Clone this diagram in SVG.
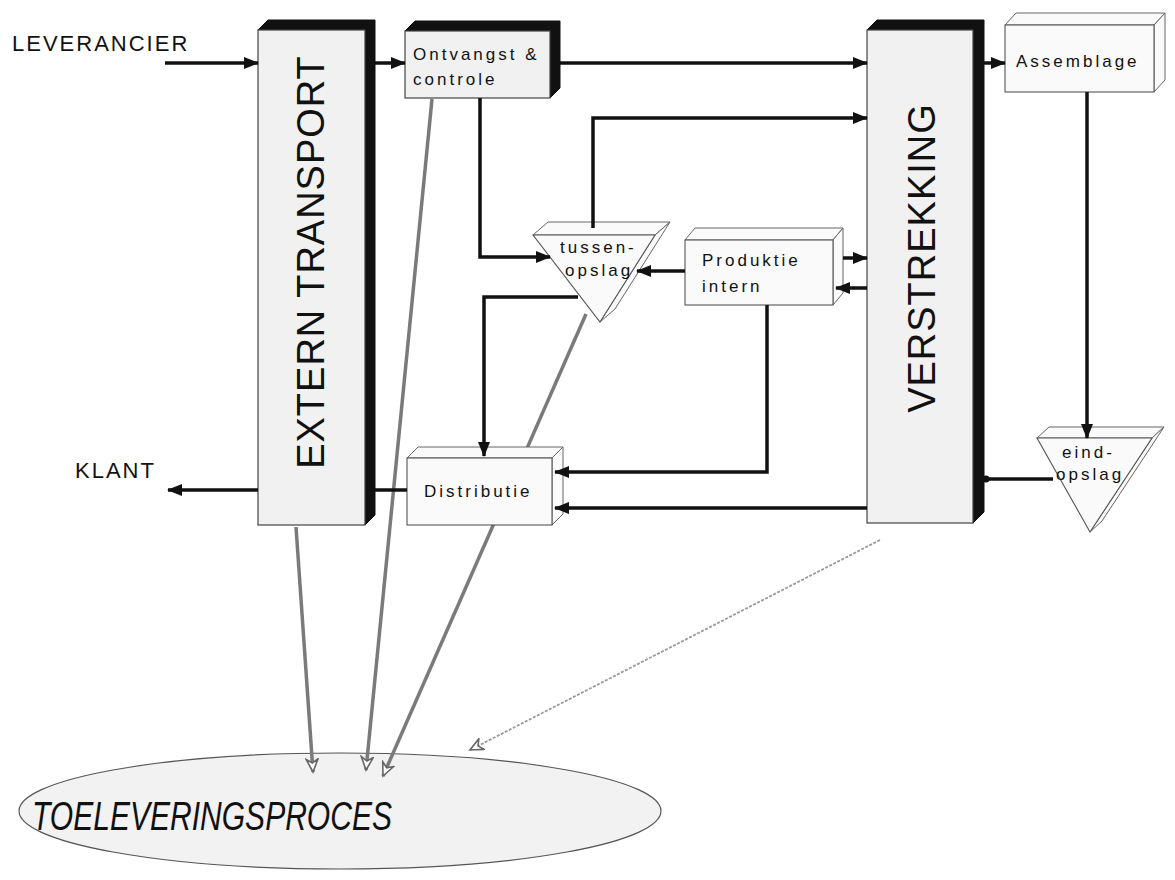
<svg xmlns="http://www.w3.org/2000/svg" width="1175" height="880" viewBox="0 0 1175 880">
<style>
.lbl{font-family:"Liberation Sans",Arial,sans-serif;font-size:17px;letter-spacing:3px;fill:#111}
.big{font-family:"Liberation Sans",Arial,sans-serif;font-size:38px;letter-spacing:1px;fill:#111;text-anchor:middle}
.side{font-family:"Liberation Sans",Arial,sans-serif;font-size:22px;letter-spacing:2px;fill:#111}
.front{fill:#f1f1f1;stroke:#444;stroke-width:1.2}
.plain{fill:#fafafa;stroke:#555;stroke-width:1.1}
.ext{fill:#111;stroke:#111;stroke-width:1}
.face{fill:#fafafa;stroke:#666;stroke-width:1}
.flow{fill:none;stroke:#111;stroke-width:3.5}
.grey{fill:none;stroke:#7a7a7a;stroke-width:3.5}
.lightgrey{fill:none;stroke:#9a9a9a;stroke-width:1.8;stroke-dasharray:3 1.5}
</style>
<defs>
<marker id="ah" markerUnits="userSpaceOnUse" markerWidth="15" markerHeight="12" refX="14" refY="6" orient="auto">
<path d="M0,0 L15,6 L0,12 z" fill="#111"/>
</marker>
<marker id="gh" markerUnits="userSpaceOnUse" markerWidth="16" markerHeight="14" refX="14" refY="7" orient="auto">
<path d="M1,1 L14,7 L1,13 L5,7 z" fill="#fff" stroke="#666" stroke-width="1.6"/>
</marker>
</defs>
<rect width="1175" height="880" fill="#fff"/>

<g id="ellipse-toeleveringsproces">
<ellipse cx="340" cy="811" rx="321" ry="58" fill="#f2f2f2" stroke="#555" stroke-width="1.2"/>
<text x="32" y="830" font-family="'Liberation Sans',Arial,sans-serif" font-style="italic" font-size="40" fill="#111" textLength="360" lengthAdjust="spacingAndGlyphs">TOELEVERINGSPROCES</text>
</g>

<g id="grey-connectors">
<path class="grey" d="M296,527 L313,772" marker-end="url(#gh)"/>
<path class="grey" d="M432,99 L366,770" marker-end="url(#gh)"/>
<path class="grey" d="M586,314 L383,776" marker-end="url(#gh)"/>
<path class="lightgrey" d="M880,540 L470,750" marker-end="url(#gh)"/>
</g>

<g id="leverancier"><text class="side" x="12" y="51">LEVERANCIER</text></g>
<g id="klant"><text class="side" x="75" y="478">KLANT</text></g>

<g id="extern-transport">
<polygon class="ext" points="258,30 268,20 375,20 375,515 365,525 365,30"/>
<rect class="front" x="258" y="30" width="107" height="495"/>
<text class="big" transform="translate(324,262) rotate(-90)">EXTERN TRANSPORT</text>
</g>

<g id="ontvangst-controle">
<polygon class="ext" points="405,31 415,21 560,21 560,88 550,98 550,31"/>
<rect class="front" x="405" y="31" width="145" height="67"/>
<text class="lbl" x="413" y="60">Ontvangst &amp;</text>
<text class="lbl" x="413" y="85">controle</text>
</g>

<g id="verstrekking">
<polygon class="ext" points="867,30 877,20 984,20 984,512 973,523 973,30"/>
<rect class="front" x="867" y="30" width="106" height="493"/>
<text class="big" transform="translate(935,258) rotate(-90)">VERSTREKKING</text>
</g>

<g id="assemblage">
<polygon class="face" points="1005,25 1016,13 1165,13 1154,25"/>
<polygon class="face" points="1154,25 1165,13 1165,80 1154,92"/>
<rect class="plain" x="1005" y="25" width="149" height="67"/>
<text class="lbl" x="1016" y="67">Assemblage</text>
</g>

<g id="tussen-opslag">
<polygon class="face" points="533,235 548,222 670,222 655,235"/>
<polygon class="face" points="655,235 670,222 615,309 600,322"/>
<polygon class="plain" points="533,235 655,235 600,322"/>
<text class="lbl" x="560" y="253">tussen-</text>
<text class="lbl" x="565" y="276">opslag</text>
</g>

<g id="produktie-intern">
<polygon class="face" points="685,240 695,228 843,228 833,240"/>
<polygon class="face" points="833,240 843,228 843,293 833,305"/>
<rect class="plain" x="685" y="240" width="148" height="65"/>
<text class="lbl" x="702" y="266">Produktie</text>
<text class="lbl" x="702" y="292">intern</text>
</g>

<g id="distributie">
<polygon class="face" points="407,458 418,447 563,447 552,458"/>
<polygon class="face" points="552,458 563,447 563,514 552,525"/>
<rect class="plain" x="407" y="458" width="145" height="67"/>
<text class="lbl" x="424" y="497">Distributie</text>
</g>

<g id="eind-opslag">
<polygon class="face" points="1037,438 1049,427 1164,427 1152,438"/>
<polygon class="face" points="1152,438 1164,427 1102,521 1090,532"/>
<polygon class="plain" points="1037,438 1152,438 1090,532"/>
<text class="lbl" x="1062" y="458">eind-</text>
<text class="lbl" x="1056" y="480">opslag</text>
</g>

<g id="connectors">
<path class="flow" d="M165,63 L258,63" marker-end="url(#ah)"/>
<path class="flow" d="M375,63 L405,63" marker-end="url(#ah)"/>
<path class="flow" d="M560,63 L867,63" marker-end="url(#ah)"/>
<path class="flow" d="M984,63 L1005,63" marker-end="url(#ah)"/>
<path class="flow" d="M1087,92 L1087,438" marker-end="url(#ah)"/>
<path class="flow" d="M1053,479 L984,479"/>
<circle cx="986" cy="479" r="3.5" fill="#111"/>
<path class="flow" d="M480,98 L480,257 L550,257" marker-end="url(#ah)"/>
<path class="flow" d="M593,228 L593,118 L867,118" marker-end="url(#ah)"/>
<path class="flow" d="M685,271 L637,271" marker-end="url(#ah)"/>
<path class="flow" d="M843,258 L867,258" marker-end="url(#ah)"/>
<path class="flow" d="M867,288 L836,288" marker-end="url(#ah)"/>
<path class="flow" d="M578,297 L484,297 L484,456" marker-end="url(#ah)"/>
<path class="flow" d="M767,305 L767,472 L555,472" marker-end="url(#ah)"/>
<path class="flow" d="M867,508 L555,508" marker-end="url(#ah)"/>
<path class="flow" d="M407,490 L375,490"/>
<path class="flow" d="M258,490 L168,490" marker-end="url(#ah)"/>
</g>
</svg>
